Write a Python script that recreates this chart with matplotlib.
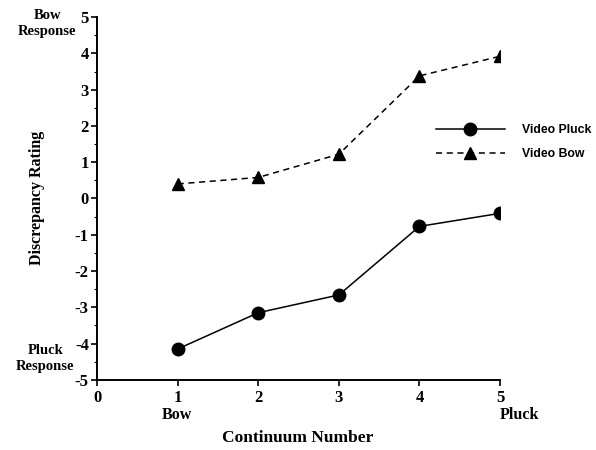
import matplotlib
matplotlib.use('Agg')
import matplotlib.pyplot as plt
from matplotlib.ticker import MultipleLocator

plt.rcParams['axes.unicode_minus'] = False

# continuum steps and mean discrepancy ratings
continuum = [1, 2, 3, 4, 5]
video_pluck = [-4.15, -3.15, -2.66, -0.77, -0.41]
video_bow = [0.40, 0.58, 1.22, 3.38, 3.92]

x_ticks = [0, 1, 2, 3, 4, 5]
y_ticks = [-5, -4, -3, -2, -1, 0, 1, 2, 3, 4, 5]

serif = {'family': 'Liberation Serif', 'weight': 'bold'}

fig = plt.figure(figsize=(5.96, 4.5), dpi=100)
ax = fig.add_axes([0.163, 0.156, 0.676, 0.806])

ax.plot(continuum, video_pluck, color='black', linestyle='-', linewidth=1.1,
        marker='o', markersize=9, label='Video Pluck')
ax.plot(continuum, video_bow, color='black', linestyle=(0, (4, 3)), linewidth=1.1,
        marker='^', markersize=9, label='Video Bow')

ax.set_xlim(0, 5)
ax.set_ylim(-5, 5)
ax.set_xticks(x_ticks)
ax.set_yticks(y_ticks)
ax.yaxis.set_minor_locator(MultipleLocator(0.5))
for s in ['top', 'right']:
    ax.spines[s].set_visible(False)
ax.spines['left'].set_linewidth(1.4)
ax.spines['bottom'].set_linewidth(1.4)
ax.tick_params(axis='y', which='major', direction='out', length=4, width=1.2, pad=2)
ax.tick_params(axis='y', which='minor', direction='out', length=2, width=0.8)
ax.tick_params(axis='x', which='major', direction='out', length=4, width=1.2, pad=3)
for lab in ax.get_xticklabels() + ax.get_yticklabels():
    lab.set_fontfamily('Liberation Serif')
    lab.set_fontweight('bold')
    lab.set_fontsize(12)

fig.text(0.5, 0.027, 'Continuum Number', ha='center', va='center', fontsize=12.5, **serif)
fig.text(0.062, 0.56, 'Discrepancy Rating', ha='center', va='center', rotation=90,
         fontsize=11.5, **serif)

fig.text(0.079, 0.948, 'Bow\nResponse', ha='center', va='center', fontsize=10.5,
         linespacing=1.3, **serif)
fig.text(0.076, 0.204, 'Pluck\nResponse', ha='center', va='center', fontsize=10.5,
         linespacing=1.3, **serif)
fig.text(0.297, 0.078, 'Bow', ha='center', va='center', fontsize=11.5, **serif)
fig.text(0.871, 0.078, 'Pluck', ha='center', va='center', fontsize=11.5, **serif)

ax.legend(loc='upper left', bbox_to_anchor=(0.828, 0.718), frameon=False,
          handlelength=5.7, handletextpad=1.4, labelspacing=1.0,
          borderaxespad=0,
          prop={'family': ['Liberation Sans Narrow', 'Liberation Sans'],
                'weight': 'bold', 'size': 8.8})

fig.savefig('out.png', dpi=100)
